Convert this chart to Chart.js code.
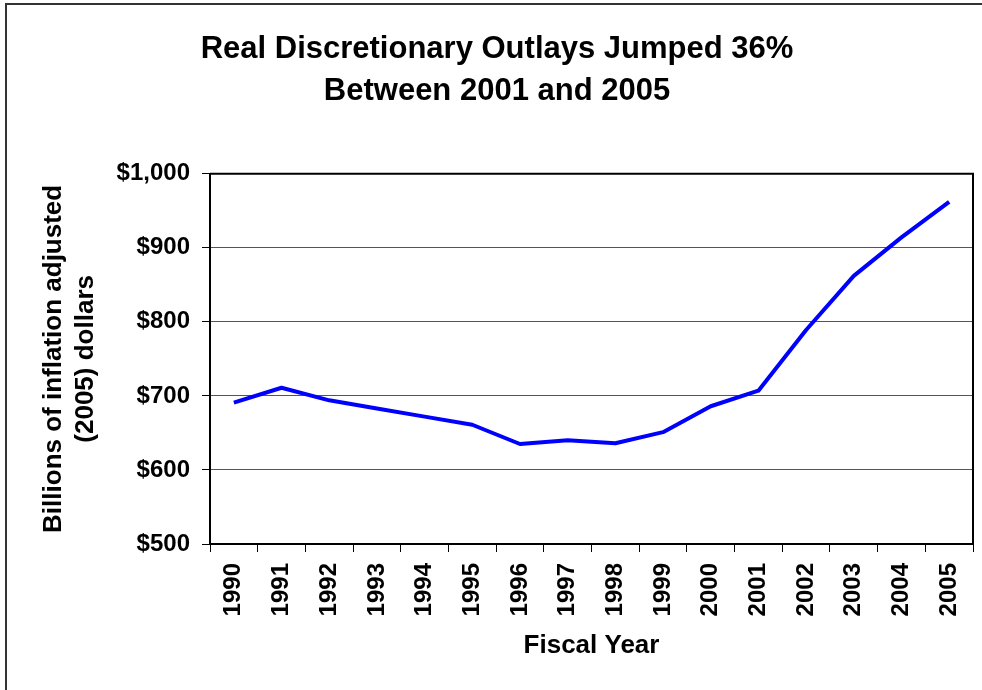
<!DOCTYPE html>
<html><head><meta charset="utf-8">
<script src="https://cdn.jsdelivr.net/npm/chart.js@4.4.0/dist/chart.umd.min.js"></script>
<style>html,body{margin:0;padding:0;background:#fff;overflow:hidden}</style>
</head><body>
<canvas id="c" width="982" height="690"></canvas>
<script>
const years = ['1990','1991','1992','1993','1994','1995','1996','1997','1998','1999','2000','2001','2002','2003','2004','2005'];
const outlays = [691, 711, 694, 683, 672, 661, 635, 640, 636, 651, 686, 707, 789, 862, 914, 962];
const yTickValues = [500, 600, 700, 800, 900, 1000];
const yTickLabels = ['$500', '$600', '$700', '$800', '$900', '$1,000'];
const titleLines = ['Real Discretionary Outlays Jumped 36%', 'Between 2001 and 2005'];
const yTitleLines = ['Billions of inflation adjusted', '(2005) dollars'];
const xTitleText = 'Fiscal Year';

Chart.defaults.font.family = '"Liberation Sans", Arial, sans-serif';
Chart.defaults.font.weight = 'bold';
Chart.defaults.color = '#000';

const frame = {
  id: 'frame',
  beforeDraw(chart) {
    const ctx = chart.ctx;
    ctx.save();
    ctx.fillStyle = '#fff';
    ctx.fillRect(0, 0, chart.width, chart.height);
    ctx.strokeStyle = '#333';
    ctx.lineWidth = 2;
    ctx.beginPath();
    ctx.moveTo(6, chart.height);
    ctx.lineTo(6, 4);
    ctx.lineTo(chart.width, 4);
    ctx.stroke();
    ctx.restore();
  },
  afterDatasetsDraw(chart) {
    const a = chart.chartArea, ctx = chart.ctx;
    ctx.save();
    ctx.strokeStyle = '#000';
    ctx.lineWidth = 2;
    ctx.beginPath();
    ctx.moveTo(a.left, a.top);
    ctx.lineTo(a.right, a.top);
    ctx.lineTo(a.right, a.bottom);
    ctx.stroke();
    ctx.restore();
  }
};

new Chart(document.getElementById('c'), {
  type: 'line',
  data: {
    labels: years,
    datasets: [{
      data: outlays,
      borderColor: '#0000ff',
      borderWidth: 4,
      pointRadius: 0,
      tension: 0,
      fill: false,
      borderJoinStyle: 'round',
      borderCapStyle: 'butt'
    }]
  },
  options: {
    responsive: false,
    animation: false,
    devicePixelRatio: 1,
    layout: { padding: { left: 21, right: 9, top: 0, bottom: 0 } },
    plugins: {
      legend: { display: false },
      tooltip: { enabled: false },
      title: {
        display: true,
        text: titleLines,
        font: { size: 31, weight: 'bold', lineHeight: 1.35 },
        color: '#000',
        padding: { top: 29, bottom: 61 }
      }
    },
    scales: {
      x: {
        type: 'category',
        offset: true,
        afterFit(s) { s.height = 146; s.paddingLeft = 0; s.paddingRight = 0; },
        grid: { display: true, offset: true, drawOnChartArea: false, drawTicks: true, tickLength: 8, tickColor: '#000', tickWidth: 1 },
        border: { display: true, color: '#000', width: 2 },
        ticks: { autoSkip: false, minRotation: 90, maxRotation: 90, padding: 11, font: { size: 24, weight: 'bold' }, color: '#000' },
        title: { display: true, text: xTitleText, font: { size: 26, weight: 'bold' }, color: '#000', padding: { top: 0, bottom: 29 } }
      },
      y: {
        min: 500, max: 1000,
        afterFit(s) { s.width = 189; },
        afterBuildTicks(s) { s.ticks = yTickValues.map(v => ({ value: v })); },
        grid: { color: '#555', lineWidth: 1, drawTicks: true, tickLength: 8, tickColor: '#000' },
        border: { display: true, color: '#000', width: 2 },
        ticks: {
          padding: 12,
          font: { size: 24, weight: 'bold' },
          color: '#000',
          callback(v) { const i = yTickValues.indexOf(v); return i >= 0 ? yTickLabels[i] : ''; }
        },
        title: { display: true, text: yTitleLines, font: { size: 26, weight: 'bold', lineHeight: 1.23 }, color: '#000', padding: { top: 17, bottom: 0 } }
      }
    }
  },
  plugins: [frame]
});
</script>
</body></html>
